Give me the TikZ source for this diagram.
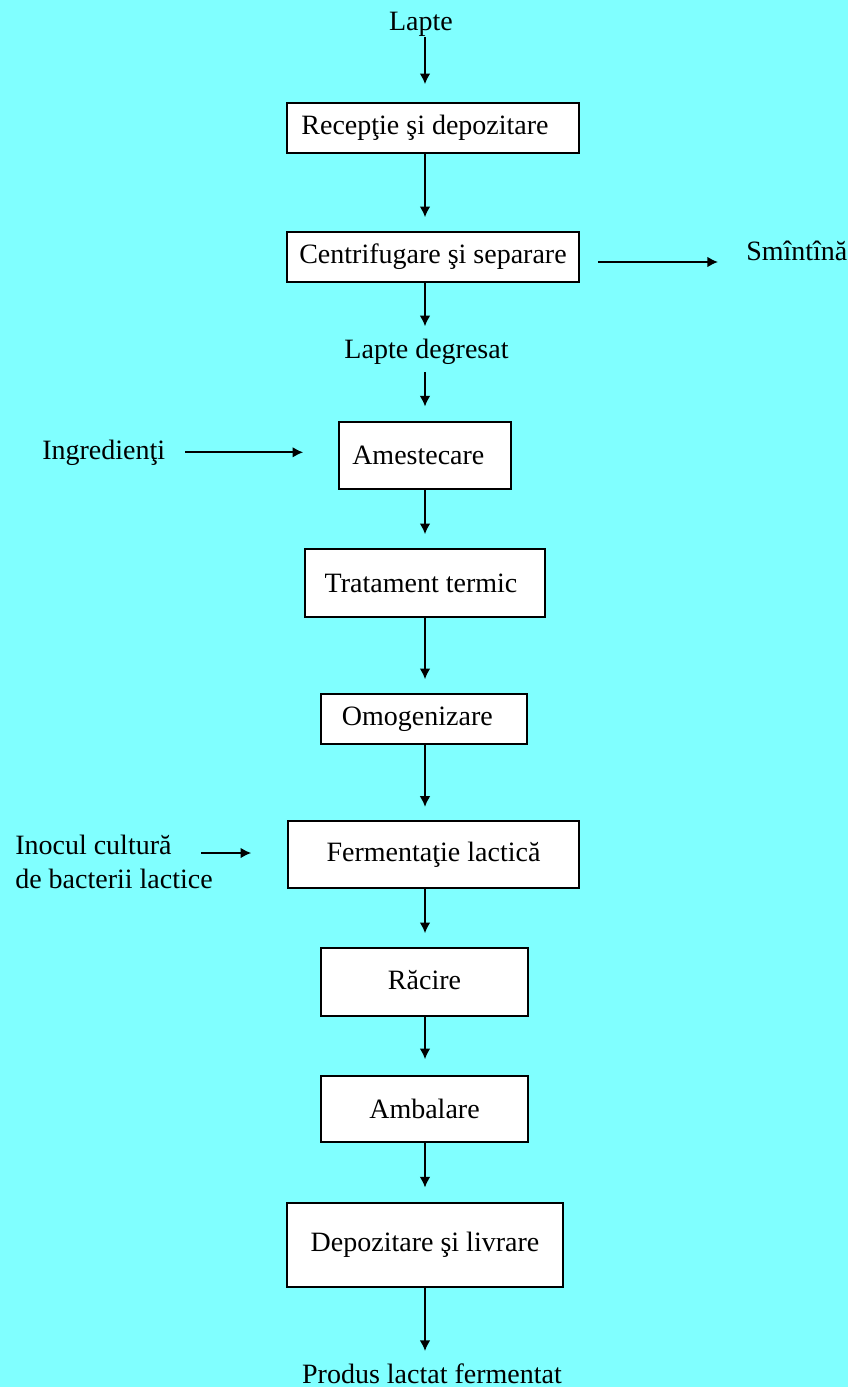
\documentclass[tikz,border=0pt]{standalone}
\usepackage{fontspec}
\setmainfont{Liberation Serif}
\usetikzlibrary{arrows.meta}
\definecolor{bgcyan}{HTML}{80FFFF}
\tikzset{
  stepbox/.style={draw, fill=white, line width=1.2pt, inner sep=0pt, align=center},
  lbl/.style={inner sep=0pt},
  flow/.style={-{Latex[length=8pt,width=8pt]}, line width=1.3pt},
}
\begin{document}
\begin{tikzpicture}[x=0.75pt, y=-0.75pt, font=\fontsize{21}{25.5}\selectfont]
    % fundal
    \fill[bgcyan] (0,0) rectangle (848,1387);
    \useasboundingbox (0,0) rectangle (848,1387);
    \coordinate (axis) at (425,0);

    % etape
    \node[stepbox, minimum width=219pt, minimum height=37.5pt] (recep) at (433,128) {\raisebox{4pt}{Recepţie şi depozitare\hspace{12pt}}};
    \node[stepbox, minimum width=219pt, minimum height=37.5pt] (centr) at (433,257) {Centrifugare şi separare};
    \node[stepbox, minimum width=129pt, minimum height=50.25pt] (amest) at (425,455.5) {Amestecare\hspace{10pt}};
    \node[stepbox, minimum width=180pt, minimum height=51pt] (trat) at (425,583) {Tratament termic\hspace{6pt}};
    \node[stepbox, minimum width=154.5pt, minimum height=37.5pt] (omog) at (424,719) {\raisebox{2pt}{Omogenizare\hspace{10pt}}};
    \node[stepbox, minimum width=218.25pt, minimum height=50.25pt] (ferm) at (433.5,854.5) {Fermentaţie lactică};
    \node[stepbox, minimum width=155.25pt, minimum height=51pt] (racire) at (424.5,982) {\raisebox{3pt}{Răcire}};
    \node[stepbox, minimum width=155.25pt, minimum height=49.5pt] (ambal) at (424.5,1109) {Ambalare};
    \node[stepbox, minimum width=207pt, minimum height=63pt] (depoz) at (425,1245) {Depozitare şi livrare};

    % intrari si iesiri
    \node[lbl, anchor=base] (lapte) at (421,31) {Lapte};
    \node[lbl, anchor=base] (degres) at (426.5,358) {Lapte degresat};
    \node[lbl, anchor=base west] (smant) at (746,261) {Smîntînă};
    \node[lbl, anchor=base west] (ingr) at (42,459) {Ingredienţi};
    \node[lbl, anchor=north west, align=left] (inocul) at (15,835) {Inocul cultură\\de bacterii lactice};
    \node[lbl, anchor=base] (produs) at (432,1383) {Produs lactat fermentat};

    % fluxul principal
    \draw[flow, shorten >=13.5pt] (lapte.south -| axis) -- (recep.north -| axis);
    \draw[flow, shorten >=10.5pt] (recep.south -| axis) -- (centr.north -| axis);
    \draw[flow, shorten >=9pt] (centr.south -| axis) -- (degres.north -| axis);
    \draw[flow, shorten <=6pt, shorten >=11pt] (degres.south -| axis) -- (amest.north -| axis);
    \draw[flow, shorten >=10.5pt] (amest.south -| axis) -- (trat.north -| axis);
    \draw[flow, shorten >=10.5pt] (trat.south -| axis) -- (omog.north -| axis);
    \draw[flow, shorten >=10pt] (omog.south -| axis) -- (ferm.north -| axis);
    \draw[flow, shorten >=10.5pt] (ferm.south -| axis) -- (racire.north -| axis);
    \draw[flow, shorten >=12pt] (racire.south -| axis) -- (ambal.north -| axis);
    \draw[flow, shorten >=11pt] (ambal.south -| axis) -- (depoz.north -| axis);
    \draw[flow, shorten >=9pt] (depoz.south -| axis) -- (produs.north -| axis);

    % ramuri laterale
    \coordinate (smarr) at ([yshift=-3.75pt]centr.east);
    \draw[flow, shorten <=13.5pt, shorten >=21pt] (smarr) -- (smarr -| smant.west);
    \draw[flow, shorten <=15pt, shorten >=26.25pt] (ingr.east) -- (ingr.east -| amest.west);
    \coordinate (inocarr) at (201,853);
    \draw[flow, shorten >=27pt] (inocarr) -- (inocarr -| ferm.west);
\end{tikzpicture}
\end{document}
